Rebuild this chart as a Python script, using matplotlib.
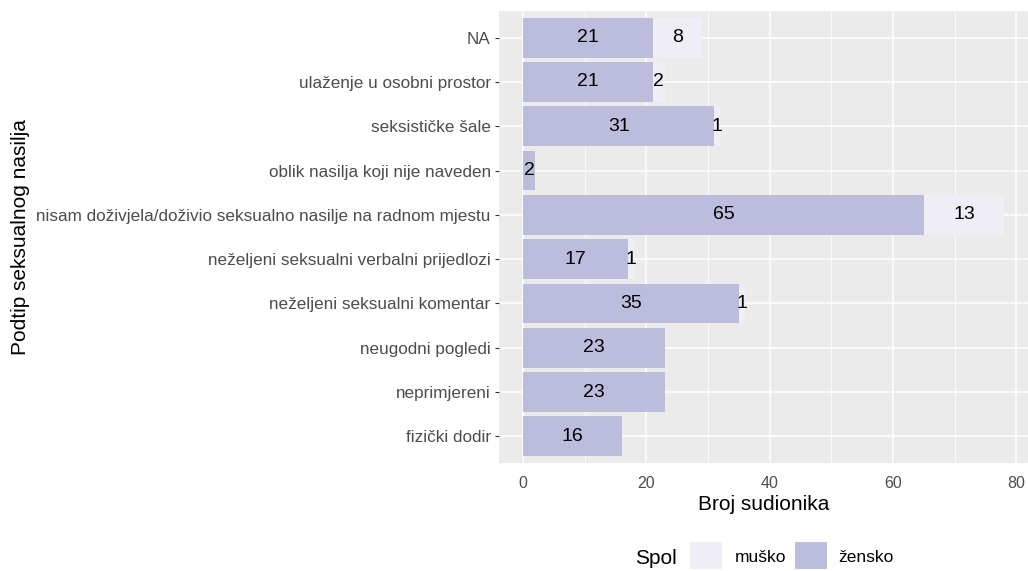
import numpy as np
import matplotlib.pyplot as plt
from matplotlib.patches import Rectangle

plt.rcParams['font.family'] = ['Liberation Sans', 'DejaVu Sans']

# Data (bottom to top)
categories = ["fizički dodir", "neprimjereni", "neugodni pogledi",
              "neželjeni seksualni komentar", "neželjeni seksualni verbalni prijedlozi",
              "nisam doživjela/doživio seksualno nasilje na radnom mjestu",
              "oblik nasilja koji nije naveden", "seksističke šale",
              "ulaženje u osobni prostor", "NA"]
zensko = [16, 23, 23, 35, 17, 65, 2, 31, 21, 21]
musko = [0, 0, 0, 1, 1, 13, 0, 1, 2, 8]
x_ticks = [0, 20, 40, 60, 80]

col_z = "#BCBDDC"
col_m = "#EFEDF5"
panel_bg = "#EBEBEB"

W, H = 1028, 571
fig = plt.figure(figsize=(W / 100, H / 100), dpi=100)
ax = fig.add_axes([499 / W, 1 - 463 / H, 529 / W, 452 / H])
ax.set_facecolor(panel_bg)

y = np.arange(len(categories))
zensko = np.array(zensko)
musko = np.array(musko)

ax.barh(y, zensko, height=0.9, color=col_z, zorder=3)
ax.barh(y, musko, left=zensko, height=0.9, color=col_m, zorder=3)

# value labels, centred in each segment
for i in range(len(categories)):
    if zensko[i] > 0:
        ax.text(zensko[i] / 2, y[i], str(zensko[i]), ha='center', va='center',
                fontsize=14, color='black', zorder=4)
    if musko[i] > 0:
        ax.text(zensko[i] + musko[i] / 2, y[i], str(musko[i]), ha='center', va='center',
                fontsize=14, color='black', zorder=4)

total = (zensko + musko).max()
ax.set_xlim(-0.05 * total, total * 1.05)
ax.set_ylim(-0.6, len(categories) - 0.4)

# grid like ggplot
ax.set_xticks(x_ticks)
ax.set_xticks([10, 30, 50, 70], minor=True)
ax.set_yticks(y)
ax.set_yticklabels(categories)
ax.grid(True, which='major', color='white', linewidth=1.1, zorder=0)
ax.grid(True, which='minor', axis='x', color='white', linewidth=0.55, zorder=0)
ax.tick_params(which='minor', length=0)
ax.tick_params(axis='y', which='major', length=3, color='#333333', labelcolor='#4D4D4D',
               labelsize=12.3, pad=3)
ax.tick_params(axis='x', which='major', length=0, labelcolor='#4D4D4D',
               labelsize=11.5, pad=9)
for s in ax.spines.values():
    s.set_visible(False)

ax.set_xlabel("Broj sudionika", fontsize=15, color='black', labelpad=3)
ax.set_ylabel("Podtip seksualnog nasilja", fontsize=15, color='black')
ax.yaxis.set_label_coords((30 - 499) / 529, 0.5)

# legend at bottom
fig.text(656 / W, 1 - 559 / H, "Spol", fontsize=15, ha='center', va='center')
legend_items = [("muško", col_m, 689, 735), ("žensko", col_z, 794, 838)]
for lab, col, kx, tx in legend_items:
    fig.patches.append(Rectangle((kx / W, 1 - 569 / H), 33 / W, 28 / H,
                                 transform=fig.transFigure, facecolor=col,
                                 edgecolor='white', linewidth=0.8))
    fig.text(tx / W, 1 - 557 / H, lab, fontsize=12.5, ha='left', va='center')

fig.savefig("out.png", dpi=100)
